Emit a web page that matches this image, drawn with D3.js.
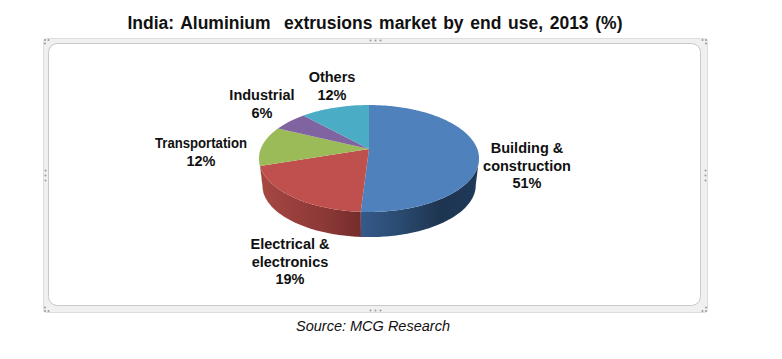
<!DOCTYPE html>
<html>
<head>
<meta charset="utf-8">
<script src="https://d3js.org/d3.v7.min.js"></script>
<style>
body { margin: 0; background: #fff; }
text { font-family: "Liberation Sans", Arial, sans-serif; fill: #111; }
</style>
</head>
<body>
<script>
// data
const categories = ["Building & construction", "Electrical & electronics", "Transportation", "Industrial", "Others"];
const shares = [51, 19, 12, 6, 12];
const sliceColors = ["#4f81bd", "#c0504d", "#9bbb59", "#8064a2", "#4bacc6"];
const wallColors = [
  ["#35598a", "#2a4a70", "#1e3550", "#20395a"],
  ["#a84744", "#983f3d", "#8a3836", "#742c2b"],
  ["#86a34c", "#86a34c", "#86a34c", "#86a34c"]
];
const labelLines = [
  ["Building &", "construction", "51%"],
  ["Electrical &", "electronics", "19%"],
  ["Transportation", "12%"],
  ["Industrial", "6%"],
  ["Others", "12%"]
];

const width = 782, height = 359;

const svg = d3.select("body").append("svg")
  .attr("width", width)
  .attr("height", height)
  .style("display", "block");

// frame around the chart
const frame = { left: 43.5, top: 38.5, right: 707.5, bottom: 312.5 };
svg.append("rect")
  .attr("x", frame.left).attr("y", frame.top)
  .attr("width", frame.right - frame.left).attr("height", frame.bottom - frame.top)
  .attr("rx", 3)
  .attr("fill", "#f0f0f0").attr("stroke", "#dedede");
svg.append("rect")
  .attr("x", 48.5).attr("y", 43.5)
  .attr("width", 652).attr("height", 262)
  .attr("rx", 9)
  .attr("fill", "#fff").attr("stroke", "#c8c8c8");

// selection handles on the frame
const midX = (frame.left + frame.right) / 2, midY = (frame.top + frame.bottom) / 2;
const handleDots = [];
[-5, 0, 5].forEach(o => {
  handleDots.push([midX + o, frame.top + 2], [midX + o, frame.bottom - 2]);
  handleDots.push([frame.left + 2, midY + o], [frame.right - 2, midY + o]);
});
[[frame.left, frame.top, 1, 1], [frame.right, frame.top, -1, 1], [frame.left, frame.bottom, 1, -1], [frame.right, frame.bottom, -1, -1]]
  .forEach(c => {
    handleDots.push([c[0] + c[2] * 1.5, c[1] + c[3] * 1.5], [c[0] + c[2] * 5, c[1] + c[3] * 1.5], [c[0] + c[2] * 1.5, c[1] + c[3] * 5]);
  });
svg.selectAll("circle.handle")
  .data(handleDots)
  .enter()
  .append("circle")
  .attr("class", "handle")
  .attr("cx", d => d[0])
  .attr("cy", d => d[1])
  .attr("r", 1)
  .attr("fill", "#9a9a9a");

// the pie is drawn in perspective: unit circle -> screen
const cx = 369, apexY = 149;
const persp = 0.1776, radX = 108.3, radY = 51.8;
function project(a, lower) {
  const u = Math.sin(a), v = Math.cos(a), w = 1 + persp * v;
  const s = lower ? 0.97 : 1;
  return [cx + s * radX * u / w, apexY + (lower ? 27 : 0) - s * radY * v / w];
}

const pie = d3.pie().sort(null);
const arcs = pie(shares);
const line = d3.line();

function sample(a0, a1) {
  const n = Math.max(2, Math.ceil(Math.abs(a1 - a0) / 0.02));
  return d3.range(n + 1).map(i => a0 + (a1 - a0) * i / n);
}

const defs = svg.append("defs");

// side walls, only the front part of the rim shows
const rimStart = Math.acos(-persp), rimEnd = 2 * Math.PI - rimStart;
arcs.forEach((d, i) => {
  const a0 = Math.max(d.startAngle, rimStart), a1 = Math.min(d.endAngle, rimEnd);
  if (a1 <= a0) return;
  const angles = sample(a0, a1);
  const pts = angles.map(a => project(a, false)).concat(angles.slice().reverse().map(a => project(a, true)));
  const xs = d3.extent(pts, p => p[0]);
  const grad = defs.append("linearGradient")
    .attr("id", "wall" + i)
    .attr("gradientUnits", "userSpaceOnUse")
    .attr("x1", xs[0]).attr("x2", xs[1]).attr("y1", 0).attr("y2", 0);
  wallColors[i].forEach((c, j) => {
    grad.append("stop").attr("offset", j / (wallColors[i].length - 1)).attr("stop-color", c);
  });
  svg.append("path")
    .attr("d", line(pts) + "Z")
    .attr("fill", "url(#wall" + i + ")");
});

// top face
arcs.forEach((d, i) => {
  const pts = [[cx, apexY]].concat(sample(d.startAngle, d.endAngle).map(a => project(a, false)));
  svg.append("path")
    .attr("d", line(pts) + "Z")
    .attr("fill", sliceColors[i]);
});

// labels
const labelAnchors = [[527, 153], [290, 249], [201, 148], [262, 100], [332, 82]];
labelLines.forEach((lines, i) => {
  const t = svg.append("text")
    .attr("text-anchor", "middle")
    .attr("font-size", 14.5)
    .attr("font-weight", "bold")
    .attr("aria-label", categories[i]);
  lines.forEach((s, j) => {
    const span = t.append("tspan")
      .attr("x", labelAnchors[i][0])
      .attr("y", labelAnchors[i][1] + j * 17.5)
      .text(s);
    if (s === "Transportation") span.attr("textLength", 92).attr("lengthAdjust", "spacingAndGlyphs");
  });
});

svg.append("text")
  .attr("x", 375).attr("y", 29)
  .attr("text-anchor", "middle")
  .attr("font-size", 17.5)
  .attr("font-weight", "bold")
  .attr("word-spacing", 1.8)
  .text("India: Aluminium  extrusions market by end use, 2013 (%)")
  .style("white-space", "pre");

svg.append("text")
  .attr("x", 373).attr("y", 331)
  .attr("text-anchor", "middle")
  .attr("font-size", 14.5)
  .attr("font-style", "italic")
  .text("Source: MCG Research");
</script>
</body>
</html>
